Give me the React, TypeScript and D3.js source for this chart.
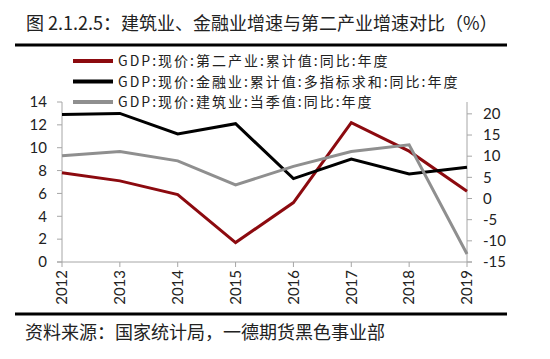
import React from "react";
import { scalePoint, scaleLinear, line } from "d3";

const years = ["2012", "2013", "2014", "2015", "2016", "2017", "2018", "2019"];
// left axis
const secondaryIndustry = [7.8, 7.1, 5.9, 1.7, 5.2, 12.2, 9.7, 6.2];
const finance = [12.9, 13.0, 11.2, 12.1, 7.3, 9.0, 7.7, 8.3];
// right axis
const construction = [10.1, 11.1, 8.9, 3.2, 7.6, 11.1, 12.7, -13.1];

const leftTicks = [0, 2, 4, 6, 8, 10, 12, 14];
const rightTicks = [-15, -10, -5, 0, 5, 10, 15, 20];

const legendNames = [
  "GDP:现价:第二产业:累计值:同比:年度",
  "GDP:现价:金融业:累计值:多指标求和:同比:年度",
  "GDP:现价:建筑业:当季值:同比:年度",
];

const title = "图 2.1.2.5：建筑业、金融业增速与第二产业增速对比（%）";
const source = "资料来源：国家统计局，一德期货黑色事业部";

const cjk = '"Noto Sans CJK SC", sans-serif';
const num = "Lato, sans-serif";
const axisColor = "#a6a6a6";

export default function App() {
  const width = 550;
  const height = 359;
  const top = 102;
  const bottom = 262;

  const x = scalePoint().domain(years).range([62, 467]);
  const yL = scaleLinear().domain([0, 14]).range([bottom, top]);
  const yR = scaleLinear().domain([-15, 22.8]).range([bottom, top]);

  const lineL = line<number>()
    .x((_, i) => x(years[i])!)
    .y((d) => yL(d));
  const lineR = line<number>()
    .x((_, i) => x(years[i])!)
    .y((d) => yR(d));

  const series = [
    { name: legendNames[0], color: "#8c0a0f", path: lineL(secondaryIndustry) },
    { name: legendNames[1], color: "#000000", path: lineL(finance) },
    { name: legendNames[2], color: "#8f8f8f", path: lineR(construction) },
  ];

  const xLeft = x(years[0])!;
  const xRight = x(years[years.length - 1])!;

  return (
    <div>
      <style>{`body{margin:0}`}</style>
      <svg width={width} height={height} style={{ display: "block", background: "#fff" }}>
        {/* title */}
        <text x={26} y={30} fontFamily={cjk} fontSize={18} fill="#222">
          {title}
        </text>
        <line x1={15} x2={507} y1={45} y2={45} stroke="#000" strokeWidth={3} />

        {/* axes */}
        <g stroke={axisColor} strokeWidth={1}>
          <line x1={xLeft} x2={xLeft} y1={top} y2={bottom} />
          <line x1={xRight} x2={xRight} y1={top} y2={bottom} />
          <line x1={xLeft - 5} x2={xRight + 5} y1={bottom} y2={bottom} />
          {leftTicks.map((t) => (
            <line key={"l" + t} x1={xLeft - 5} x2={xLeft} y1={yL(t)} y2={yL(t)} />
          ))}
          {rightTicks.map((t) => (
            <line key={"r" + t} x1={xRight} x2={xRight + 5} y1={yR(t)} y2={yR(t)} />
          ))}
          {years.map((yr) => (
            <line key={"x" + yr} x1={x(yr)} x2={x(yr)} y1={bottom} y2={bottom + 5} />
          ))}
        </g>

        {leftTicks.map((t) => (
          <text key={"lt" + t} x={47} y={yL(t)} dy="0.35em" textAnchor="end"
            fontFamily={num} fontSize={15} fill="#222">
            {t}
          </text>
        ))}
        {rightTicks.map((t) => (
          <text key={"rt" + t} x={483} y={yR(t)} dy="0.35em" textAnchor="start"
            fontFamily={num} fontSize={15} fill="#222">
            {t}
          </text>
        ))}
        {years.map((yr) => (
          <text key={"xt" + yr} transform={`translate(${x(yr)},${bottom + 8}) rotate(-90)`}
            dy="0.35em" textAnchor="end" fontFamily={num} fontSize={15} fill="#222">
            {yr}
          </text>
        ))}

        {/* series */}
        {series.map((s) => (
          <path key={s.name} d={s.path ?? ""} fill="none" stroke={s.color}
            strokeWidth={3} strokeLinejoin="miter" />
        ))}

        {/* legend */}
        {series.map((s, i) => {
          const ly = 61 + i * 20.5;
          return (
            <g key={"lg" + i}>
              <line x1={73} x2={113} y1={ly} y2={ly} stroke={s.color} strokeWidth={4} />
              <text x={118} y={ly} dy="0.36em" fontFamily={cjk} fontSize={14}
                letterSpacing={2} fill="#222">
                {s.name}
              </text>
            </g>
          );
        })}

        {/* footer */}
        <line x1={15} x2={507} y1={314} y2={314} stroke="#000" strokeWidth={3} />
        <text x={25} y={339} fontFamily={cjk} fontSize={18} fill="#222">
          {source}
        </text>
      </svg>
    </div>
  );
}
